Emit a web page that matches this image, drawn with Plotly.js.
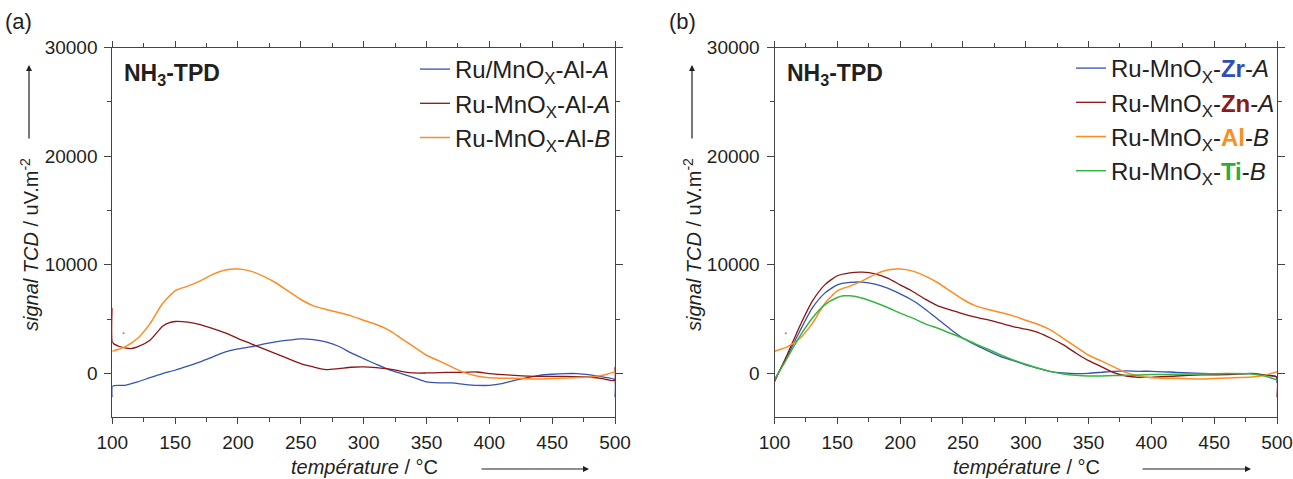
<!DOCTYPE html>
<html>
<head>
<meta charset="utf-8">
<script src="https://cdn.plot.ly/plotly-3.0.1.min.js"></script>
<style>html,body{margin:0;padding:0;background:#fff;}#chart{width:1293px;height:479px;}</style>
</head>
<body>
<div id="chart"></div>
<script>
// ---------- data ----------
const T_alB = [100,110,120,130,140,150,160,170,180,190,200,210,220,230,240,250,260,270,280,290,300,310,320,330,340,350,360,370,380,390,400,420,440,460,480,490,500];
const S_alB = [2030,2430,3200,4580,6430,7600,8030,8520,9110,9510,9600,9415,8950,8340,7570,6800,6215,5880,5600,5290,4890,4490,3970,3200,2430,1660,1140,585,60,-250,-400,-460,-520,-430,-340,-185,150];

const T_alA = [100,100.4,105,110,115,120,130,140,145,150,160,170,180,190,200,210,220,230,240,250,260,270,280,290,300,310,320,330,340,350,360,370,380,390,400,420,440,460,480,490,499.6,500];
const S_alA = [6000,2800,2490,2340,2280,2430,3050,4340,4650,4770,4710,4490,4120,3720,3200,2740,2280,1815,1350,890,585,340,430,555,585,520,400,185,30,30,60,90,90,120,-30,-185,-280,-280,-340,-490,-650,550];

const T_slashA = [100,100.4,110,120,130,140,150,160,170,180,190,200,210,220,230,240,250,260,270,280,290,300,310,320,330,340,350,360,370,380,390,400,410,420,430,440,450,460,470,480,490,499.6,500];
const S_slashA = [-2200,-1170,-1110,-800,-400,-30,280,650,1050,1510,1970,2250,2430,2680,2890,3050,3170,3110,2890,2490,1880,1350,830,340,-30,-400,-800,-890,-890,-1015,-1110,-1110,-950,-650,-400,-185,-90,-30,-30,-155,-340,-585,-2180];

const T_zrA = [100,110,120,130,140,150,160,170,180,190,200,210,220,230,240,250,260,270,280,290,300,310,320,330,340,350,360,370,380,390,400,420,440,460,480,490,499.6,500];
const S_zrA = [-615,1540,3850,6000,7385,8150,8370,8400,8215,7850,7320,6710,5910,4985,4060,3230,2615,2060,1540,1170,770,460,155,30,-30,0,90,185,215,185,185,90,0,-60,-30,-155,-370,-900];

const T_znA = [100,110,120,130,140,150,160,170,180,190,200,210,220,230,240,250,260,270,280,290,300,310,320,330,340,350,360,370,380,390,400,420,440,460,480,490,499.6,500];
const S_znA = [-770,1690,4310,6620,8150,8985,9260,9320,9170,8770,8150,7540,6830,6215,5850,5480,5170,4920,4615,4310,4060,3750,3230,2615,1850,1170,615,60,-250,-370,-370,-250,-155,-120,0,-155,-310,-2200];

const T_tiB = [100,110,120,130,140,150,155,160,170,180,190,200,210,220,230,240,250,260,270,280,290,300,310,320,330,340,350,360,370,380,390,400,420,440,460,480,490,500];
const S_tiB = [-615,1385,3385,5080,6310,6985,7140,7140,6920,6520,6060,5540,5080,4555,4150,3690,3230,2710,2215,1690,1230,830,460,155,-60,-185,-250,-250,-215,-185,-155,-120,-90,-60,-30,-60,-250,-615];

const T_dot = [109];
const S_dot = [3700];

const names_a = ['Ru/MnO<sub>X</sub>-Al-<i>A</i>','Ru-MnO<sub>X</sub>-Al-<i>A</i>','Ru-MnO<sub>X</sub>-Al-<i>B</i>'];
const names_b = ['Ru-MnO<sub>X</sub>-<b><span style="color:#2d4fb4">Zr</span></b>-<i>A</i>',
                 'Ru-MnO<sub>X</sub>-<b><span style="color:#8c1a1a">Zn</span></b>-<i>A</i>',
                 'Ru-MnO<sub>X</sub>-<b><span style="color:#f7901e">Al</span></b>-<i>B</i>',
                 'Ru-MnO<sub>X</sub>-<b><span style="color:#2eaa3c">Ti</span></b>-<i>B</i>'];

const xTickVals = [100,150,200,250,300,350,400,450,500];
const xTickText = ['100','150','200','250','300','350','400','450','500'];
const yTickVals = [0,10000,20000,30000];
const yTickText = ['0','10000','20000','30000'];

// ---------- styles ----------
const BLUE = '#3652b0', RED = '#8b1515', ORANGE = '#ff8c22', GREEN = '#36b444', GRAY_DOT='#888';
const W = 1293, H = 479;
const FONT = 'Liberation Sans, Arial, sans-serif';
const INK = '#231f20';

function tr(x, y, name, color, xa, ya, legend, width) {
  return {x: x, y: y, name: name, type: 'scatter', mode: 'lines',
          line: {color: color, width: width || 1.3, shape: 'spline', smoothing: 0.6},
          xaxis: xa, yaxis: ya, legend: legend, hoverinfo: 'skip'};
}

const data = [
  tr(T_slashA, S_slashA, names_a[0], BLUE, 'x', 'y', 'legend'),
  tr(T_alA, S_alA, names_a[1], RED, 'x', 'y', 'legend'),
  tr(T_alB, S_alB, names_a[2], ORANGE, 'x', 'y', 'legend', 1.5),
  tr(T_zrA, S_zrA, names_b[0], BLUE, 'x2', 'y2', 'legend2'),
  tr(T_znA, S_znA, names_b[1], RED, 'x2', 'y2', 'legend2'),
  tr(T_alB, S_alB, names_b[2], ORANGE, 'x2', 'y2', 'legend2', 1.5),
  tr(T_tiB, S_tiB, names_b[3], GREEN, 'x2', 'y2', 'legend2', 1.5),
  {x: T_dot, y: S_dot, mode: 'markers', marker: {size: 2, color: GRAY_DOT}, xaxis: 'x', yaxis: 'y', showlegend: false, hoverinfo: 'skip'},
  {x: T_dot, y: S_dot, mode: 'markers', marker: {size: 2, color: GRAY_DOT}, xaxis: 'x2', yaxis: 'y2', showlegend: false, hoverinfo: 'skip'}
];

const px = v => v / W, py = v => (H - v) / H;
const yDom = [py(416.7), py(47.7)];

function xaxisDef(dom, anchor) {
  return {domain: dom, anchor: anchor, range: [100, 500], tickvals: xTickVals, ticktext: xTickText,
          ticks: 'outside', ticklen: 6, tickwidth: 1, tickcolor: '#444',
          showline: true, linecolor: '#444', linewidth: 1, mirror: 'ticks',
          showgrid: false, zeroline: false,
          minor: {dtick: 25, tick0: 100, ticks: 'outside', ticklen: 4, tickcolor: '#444', showgrid: false},
          tickfont: {family: FONT, size: 19, color: INK}, ticklabelstandoff: 2};
}
function yaxisDef(anchor) {
  return {domain: yDom, anchor: anchor, range: [-4000, 30000], tickvals: yTickVals, ticktext: yTickText,
          ticks: 'outside', ticklen: 7, tickwidth: 1, tickcolor: '#444',
          showline: true, linecolor: '#444', linewidth: 1, mirror: 'ticks',
          showgrid: false, zeroline: false,
          minor: {dtick: 5000, tick0: 0, ticks: 'outside', ticklen: 4, tickcolor: '#444', showgrid: false},
          tickfont: {family: FONT, size: 19, color: INK}, ticklabelstandoff: 3};
}

const legendFont = {family: FONT, size: 24, color: INK};

function ann(text, x, y, size, extra) {
  return Object.assign({text: text, x: px(x), y: py(y), xref: 'paper', yref: 'paper', xanchor: 'center', yanchor: 'middle',
                        showarrow: false, font: {family: FONT, size: size, color: INK}}, extra || {});
}
function arrow(x, y, ax, ay) {
  return {text: '', x: px(x), y: py(y), xref: 'paper', yref: 'paper', ax: ax, ay: ay, showarrow: true,
          arrowhead: 2, arrowsize: 1, arrowwidth: 1.2, arrowcolor: INK};
}

const annotations = [
  ann('(a)', 18, 22, 22),
  ann('(b)', 682, 22, 22),
  ann('<b>NH<sub>3</sub>-TPD</b>', 122, 75, 23, {xanchor: 'left'}),
  ann('<b>NH<sub>3</sub>-TPD</b>', 785, 75, 23, {xanchor: 'left'}),
  ann('<i>signal TCD</i> / uV.m<sup>-2</sup>', 29, 245, 20, {textangle: -90}),
  ann('<i>signal TCD</i> / uV.m<sup>-2</sup>', 692, 245, 20, {textangle: -90}),
  ann('<i>température</i> / °C', 364, 467, 20),
  ann('<i>température</i> / °C', 1026, 467, 20),
  arrow(29, 65, 0, 75),
  arrow(692, 65, 0, 75),
  arrow(589, 469, -109, 0),
  arrow(1251, 469, -110, 0)
];

const layout = {
  width: W, height: H, margin: {l: 0, r: 0, t: 0, b: 0},
  paper_bgcolor: '#fff', plot_bgcolor: '#fff',
  font: {family: FONT, color: INK},
  xaxis: xaxisDef([px(112.3), px(615)], 'y'),
  yaxis: yaxisDef('x'),
  xaxis2: xaxisDef([px(774.5), px(1277)], 'y2'),
  yaxis2: yaxisDef('x2'),
  legend: {x: px(415), y: py(47), xanchor: 'left', yanchor: 'top', bgcolor: 'rgba(0,0,0,0)', borderwidth: 0, font: legendFont, tracegroupgap: 0},
  legend2: {x: px(1071), y: py(46), xanchor: 'left', yanchor: 'top', bgcolor: 'rgba(0,0,0,0)', borderwidth: 0, font: legendFont, tracegroupgap: 0},
  annotations: annotations,
  showlegend: true
};

Plotly.newPlot('chart', data, layout, {staticPlot: true, displayModeBar: false});
</script>
</body>
</html>
